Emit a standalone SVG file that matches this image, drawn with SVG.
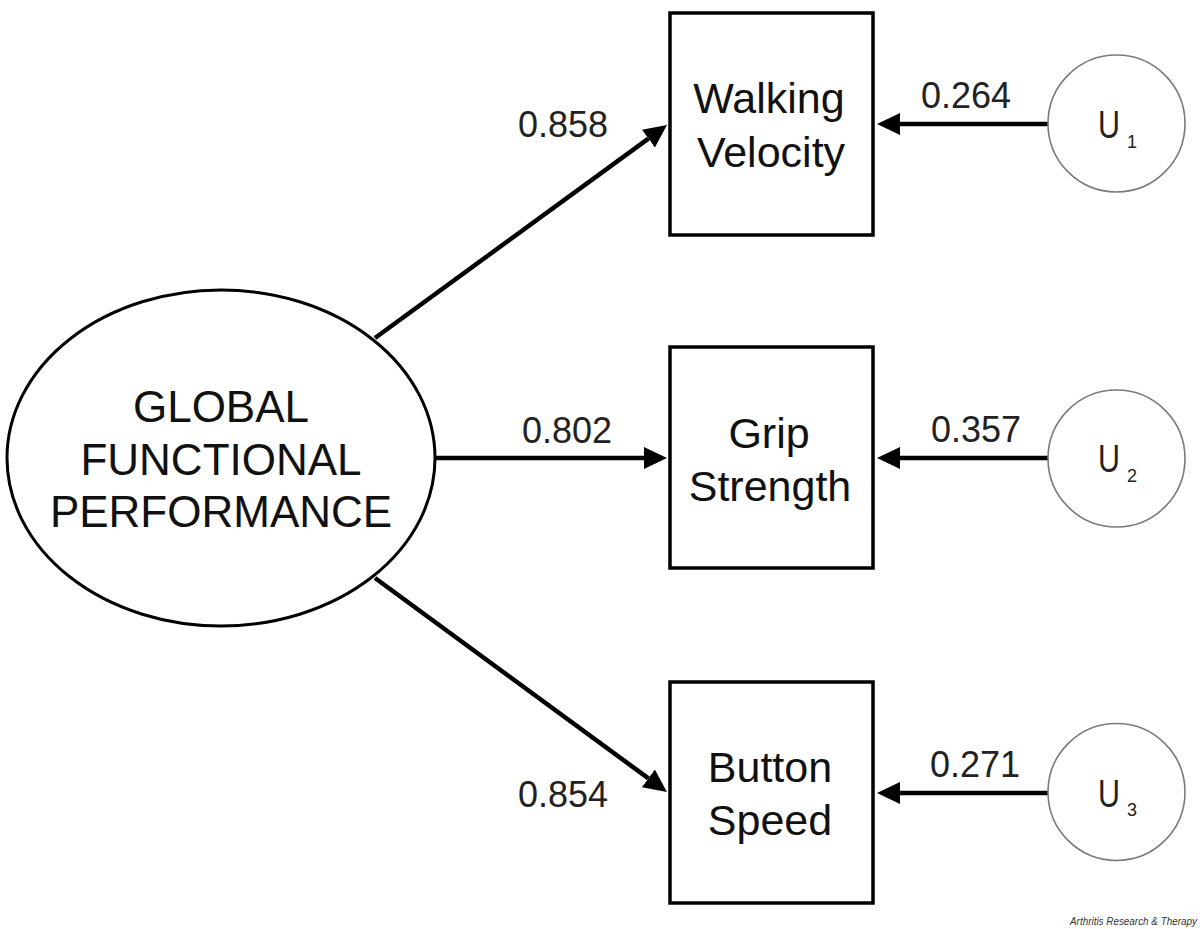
<svg xmlns="http://www.w3.org/2000/svg" width="1200" height="929" viewBox="0 0 1200 929">
<style>
.box{fill:#fff;stroke:#000;stroke-width:3.5}
.ell{fill:#fff;stroke:#000;stroke-width:3}
.u{fill:#fff;stroke:#7a7a7a;stroke-width:1.6}
.edge{stroke:#000;stroke-width:4.5;fill:none}
.t{font-family:"Liberation Sans",Arial,sans-serif;fill:#111;text-anchor:middle}
.big{font-size:44px}
.nt{font-size:43px}
.lbl{font-size:36px;fill:#222}
.uu{font-family:"Liberation Sans",Arial,sans-serif;fill:#222}
</style>
<defs>
<marker id="ah" markerUnits="userSpaceOnUse" markerWidth="24" markerHeight="24" refX="0" refY="11" orient="auto">
<path d="M0,0 L23,11 L0,22 z" fill="#000"/>
</marker>
</defs>
<rect width="1200" height="929" fill="#fff"/>
<g id="connectors">
<line class="edge" x1="375" y1="338" x2="648.4" y2="138.6" marker-end="url(#ah)"/>
<line class="edge" x1="435" y1="458" x2="644" y2="458" marker-end="url(#ah)"/>
<line class="edge" x1="375" y1="578" x2="648.4" y2="778.4" marker-end="url(#ah)"/>
<line class="edge" x1="1048" y1="124" x2="900" y2="124" marker-end="url(#ah)"/>
<line class="edge" x1="1048" y1="458" x2="900" y2="458" marker-end="url(#ah)"/>
<line class="edge" x1="1048" y1="793" x2="900" y2="793" marker-end="url(#ah)"/>
<text class="t lbl" x="563" y="137">0.858</text>
<text class="t lbl" x="567" y="443">0.802</text>
<text class="t lbl" x="563" y="807">0.854</text>
<text class="t lbl" x="966" y="108">0.264</text>
<text class="t lbl" x="976" y="442">0.357</text>
<text class="t lbl" x="975" y="777">0.271</text>
</g>
<g id="global">
<ellipse class="ell" cx="221" cy="458" rx="214" ry="168"/>
<text class="t big" x="221" y="422">GLOBAL</text>
<text class="t big" x="221" y="475">FUNCTIONAL</text>
<text class="t big" x="221" y="527">PERFORMANCE</text>
</g>
<g id="walking">
<rect class="box" x="670" y="13" width="203" height="222"/>
<text class="t nt" x="769" y="113">Walking</text>
<text class="t nt" x="771" y="167">Velocity</text>
</g>
<g id="grip">
<rect class="box" x="670" y="347" width="203" height="221"/>
<text class="t nt" x="769" y="448">Grip</text>
<text class="t nt" x="770" y="501">Strength</text>
</g>
<g id="button">
<rect class="box" x="670" y="682" width="203" height="221"/>
<text class="t nt" x="770" y="782">Button</text>
<text class="t nt" x="770" y="835">Speed</text>
</g>
<g id="u1">
<circle class="u" cx="1116.5" cy="123.5" r="68.5"/>
<text class="uu" x="1098" y="138" font-size="38" textLength="22" lengthAdjust="spacingAndGlyphs">U</text>
<text class="uu" x="1127" y="148" font-size="18">1</text>
</g>
<g id="u2">
<circle class="u" cx="1116.5" cy="458.5" r="68.5"/>
<text class="uu" x="1098" y="472" font-size="38" textLength="22" lengthAdjust="spacingAndGlyphs">U</text>
<text class="uu" x="1127" y="482" font-size="18">2</text>
</g>
<g id="u3">
<circle class="u" cx="1116.5" cy="792" r="68.5"/>
<text class="uu" x="1098" y="807" font-size="38" textLength="22" lengthAdjust="spacingAndGlyphs">U</text>
<text class="uu" x="1127" y="816" font-size="18">3</text>
</g>
<text x="1070" y="925" font-family="Liberation Sans,Arial,sans-serif" font-style="italic" font-size="10" fill="#333" textLength="127" lengthAdjust="spacingAndGlyphs">Arthritis Research &amp; Therapy</text>
</svg>
